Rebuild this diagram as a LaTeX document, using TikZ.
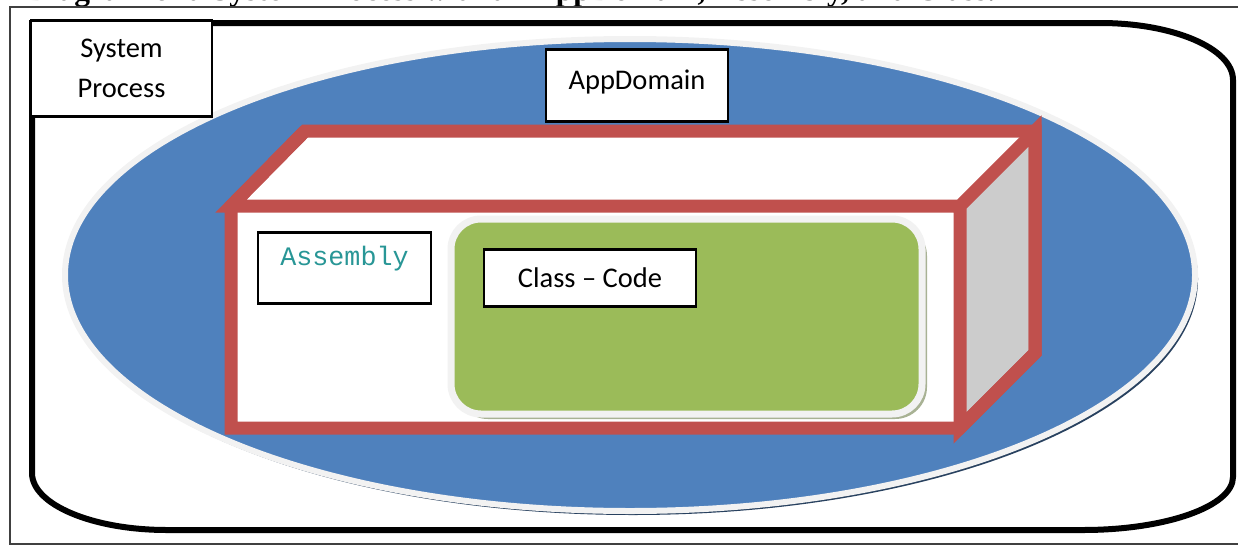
\documentclass[tikz,border=0pt]{standalone}
\usepackage{fontspec}
\setmainfont{Carlito}
\newfontfamily\capfnt{Liberation Serif}
\newfontfamily\codefnt{Liberation Mono}
\usepackage{tikz}
\usetikzlibrary{calc}
\definecolor{domainblue}{RGB}{79,129,189}
\definecolor{rimgray}{RGB}{242,242,242}
\definecolor{boxred}{RGB}{192,80,77}
\definecolor{sidegray}{RGB}{204,204,204}
\definecolor{codegreen}{RGB}{155,187,89}
\definecolor{shadegreen}{RGB}{168,178,148}
\definecolor{asmteal}{RGB}{40,150,150}
\tikzset{labelbox/.style={draw, line width=2.5, fill=white, inner sep=0pt, align=center, font=\fontsize{28.5}{40}\selectfont}}
\tikzset{redline/.style={draw=boxred, line width=13, miter limit=10}}

\begin{document}
\begin{tikzpicture}[x=1pt,y=-1pt]
  \useasboundingbox (0,0) rectangle (1238,546);
  \node[anchor=base west, inner sep=0pt, font=\capfnt\bfseries\fontsize{31.5}{36}\selectfont] (caption) at (27,1) {Diagram of a System Process with an AppDomain, Assembly, and Class.};
  \draw[line width=2, black!75] (10,7) rectangle (1250,544);
  % process outline
  \draw[line width=6] (32,23) -- (1100,23) .. controls (1173.5,23) and (1233,48.5) .. (1233,80)
    -- (1233,477) .. controls (1233,506.3) and (1165.8,530) .. (1083,530)
    -- (167,530) .. controls (92.4,530) and (32,504.5) .. (32,473) -- cycle;
  % app domain
  \fill[black!50!domainblue] (633,279) ellipse [x radius=565, y radius=236];
  \draw[line width=6, draw=rimgray, fill=domainblue] (630,275) ellipse [x radius=565, y radius=236];
  % assembly block
  \fill[white] (231,206) -- (305,131) -- (1035,131) -- (960,206) -- cycle;
  \fill[white] (231,206) rectangle (960,428);
  \fill[sidegray] (960,206) -- (1035,131) -- (1035,353) -- (960,428) -- cycle;
  \draw[redline] (231,428) -- (231,206) -- (305,131) -- (1035,131) -- (1035,353) -- (960,428) -- cycle;
  \draw[redline] (305,131) -- (231,206) -- (960,206) -- (1035,131) -- (1035,353) -- (960,428) -- (960,206);
  % class
  \fill[shadegreen, rounded corners=32] (456,224) rectangle (927,419);
  \draw[line width=7, draw=rimgray, fill=codegreen, rounded corners=30] (451,219) rectangle (922,414);
  \foreach \x/\y/\w/\h/\name/\lab in {
    121.5/68.5/181/96/{System\\Process}/sysproc,
    590/278/212/57/Class – Code/classcode%
  } {
    \node[labelbox, minimum width=\w pt, minimum height=\h pt] (\lab) at (\x, \y) {\name};
  }
  \node[labelbox, anchor=north, minimum width=182pt, text height=40pt, text depth=32pt] (appdom) at (637,48) {AppDomain};
  \node[labelbox, anchor=north, minimum width=173pt, text height=33pt, text depth=38pt,
    font=\codefnt\fontsize{26.7}{30}\selectfont, text=asmteal] (asm) at (344.5,231) {Assembly};
\end{tikzpicture}
\end{document}
